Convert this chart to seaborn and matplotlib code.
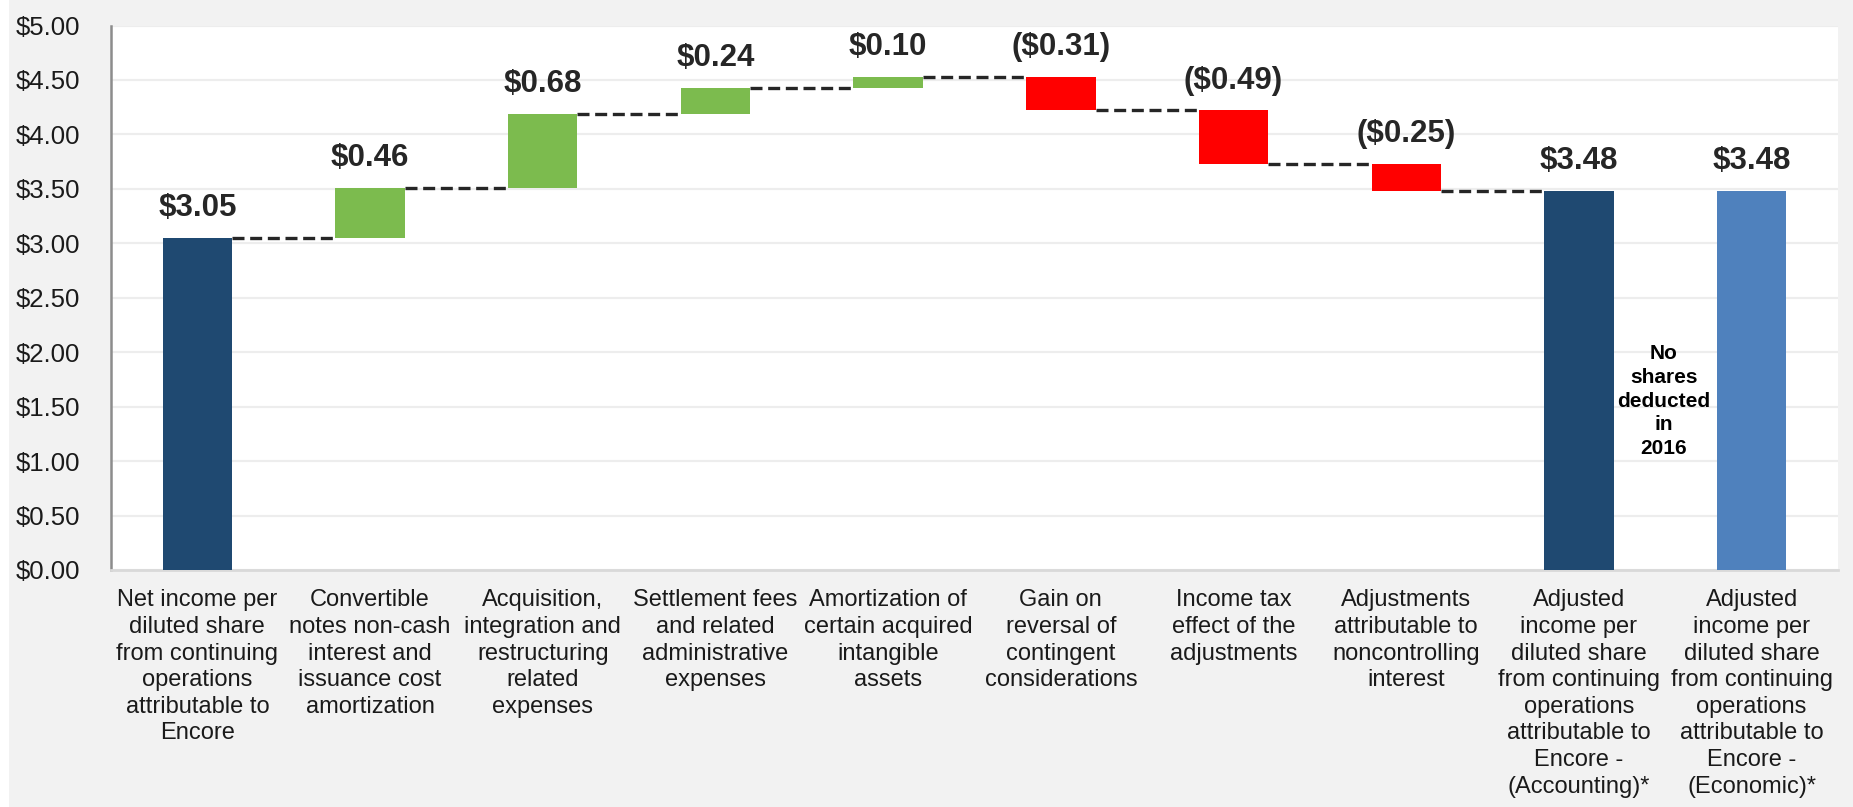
import numpy as np
import pandas as pd
import matplotlib
matplotlib.use("Agg")
import matplotlib.pyplot as plt
from matplotlib.patches import Rectangle
from matplotlib.ticker import FuncFormatter, MultipleLocator, FixedLocator
import seaborn as sns

# ---- data ----
categories = [
    "Net income per\ndiluted share\nfrom continuing\noperations\nattributable to\nEncore",
    "Convertible\nnotes non-cash\ninterest and\nissuance cost\namortization",
    "Acquisition,\nintegration and\nrestructuring\nrelated\nexpenses",
    "Settlement fees\nand related\nadministrative\nexpenses",
    "Amortization of\ncertain acquired\nintangible\nassets",
    "Gain on\nreversal of\ncontingent\nconsiderations",
    "Income tax\neffect of the\nadjustments",
    "Adjustments\nattributable to\nnoncontrolling\ninterest",
    "Adjusted\nincome per\ndiluted share\nfrom continuing\noperations\nattributable to\nEncore -\n(Accounting)*",
    "Adjusted\nincome per\ndiluted share\nfrom continuing\noperations\nattributable to\nEncore -\n(Economic)*",
]
amounts = [3.05, 0.46, 0.68, 0.24, 0.10, -0.31, -0.49, -0.25, 3.48, 3.48]
kinds = ["total", "delta", "delta", "delta", "delta", "delta", "delta", "delta", "total", "total"]
bar_colors = ["#1F4971", "#7CBB4E", "#7CBB4E", "#7CBB4E", "#7CBB4E",
              "#FF0000", "#FF0000", "#FF0000", "#1F4971", "#4F81BD"]
note_text = "No\nshares\ndeducted\nin\n2016"

# waterfall geometry
bottoms, tops, levels = [], [], []
level = 0.0
for amt, kind in zip(amounts, kinds):
    if kind == "total":
        bottoms.append(0.0)
        tops.append(amt)
        level = amt
    else:
        new = level + amt
        bottoms.append(min(level, new))
        tops.append(max(level, new))
        level = new
    levels.append(level)

df = pd.DataFrame({"category": categories,
                   "height": np.array(tops) - np.array(bottoms)})

def money(v):
    return f"(${abs(v):.2f})" if v < 0 else f"${v:.2f}"

# ---- plot ----
sns.set_style("white")
plt.rcParams["font.family"] = ["Liberation Sans", "DejaVu Sans"]

fig = plt.figure(figsize=(18.53, 8.07), dpi=100, facecolor="#F2F2F2")
fig.patches.append(Rectangle((0, 0), 9 / 1853, 1, transform=fig.transFigure,
                             facecolor="white", edgecolor="none", zorder=-1))
ax = fig.add_axes([0.0599, 0.2937, 0.932, 0.6747])
ax.set_facecolor("white")

bar_w = 0.402
sns.barplot(data=df, x="category", y="height", order=categories,
            bottom=np.array(bottoms), width=bar_w, errorbar=None,
            color=bar_colors[0], saturation=1, ax=ax, zorder=3, linewidth=0)
for patch, c in zip(ax.patches, bar_colors):
    patch.set_facecolor(c)
    patch.set_edgecolor(c)

# dashed connectors
for i in range(len(amounts) - 2):
    ax.hlines(levels[i], i + bar_w / 2, i + 1 - bar_w / 2, colors="#262626",
              linestyles=(0, (3.6, 1.7)), linewidth=2.4, zorder=4)

# value labels
for i, (amt, top) in enumerate(zip(amounts, tops)):
    ax.annotate(money(amt), (i, top), xytext=(0, 15.5), textcoords="offset points",
                ha="center", va="baseline", fontsize=22.5, fontweight="bold",
                color="#262626", zorder=5)

ax.text(8.49, 1.55, note_text, ha="center", va="center", fontsize=15,
        fontweight="bold", color="black", linespacing=1.31)

# axes styling
ax.set_ylim(0, 5)
ax.set_xlim(-0.5, len(categories) - 0.5)
ax.yaxis.set_major_locator(MultipleLocator(0.5))
ax.yaxis.set_major_formatter(FuncFormatter(lambda v, p: f"${v:.2f}"))
ax.grid(axis="y", color="#EDEDED", linewidth=1.6, zorder=0)
ax.set_axisbelow(True)
for s in ["top", "right"]:
    ax.spines[s].set_visible(False)
ax.spines["left"].set_color("#8C8C8C")
ax.spines["left"].set_linewidth(1.8)
ax.spines["bottom"].set_color("#D9D9D9")
ax.spines["bottom"].set_linewidth(2)
ax.tick_params(axis="y", direction="out", length=6.5, width=1.5, color="#8C8C8C",
               labelsize=18.5, labelcolor="#1a1a1a", pad=16)
ax.tick_params(axis="x", which="major", length=0, labelsize=17,
               labelcolor="#1a1a1a", pad=14)
ax.xaxis.set_minor_locator(FixedLocator(np.arange(-0.5, len(categories), 1.0)))
ax.tick_params(axis="x", which="minor", direction="out", length=7, width=2,
               color="#D9D9D9")
for t in ax.get_xticklabels():
    t.set_linespacing(1.27)
ax.set_xlabel("")
ax.set_ylabel("")

fig.savefig("out.png", dpi=100, facecolor=fig.get_facecolor())
